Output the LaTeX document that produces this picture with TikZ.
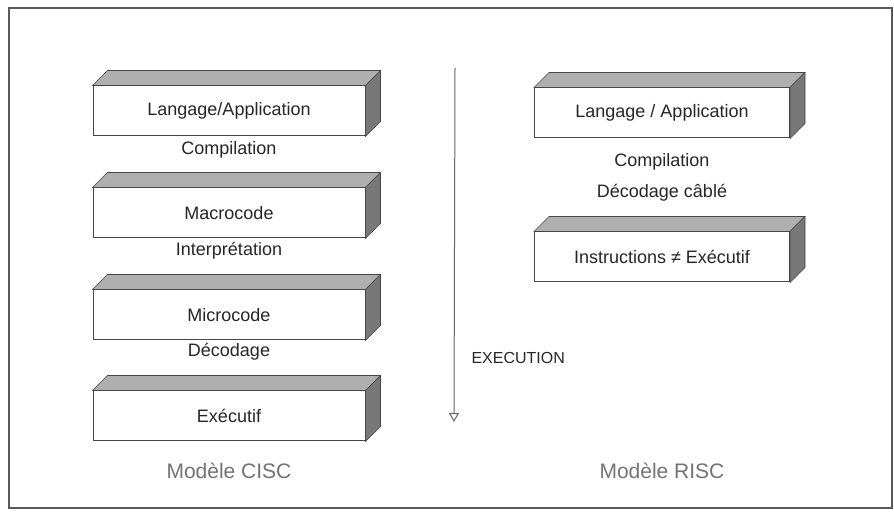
\documentclass[tikz,border=0pt]{standalone}
\usepackage{fontspec}
\setmainfont{Liberation Sans}
\usetikzlibrary{arrows.meta,positioning,calc}
\definecolor{topgray}{RGB}{175,175,175}
\definecolor{sidegray}{RGB}{120,120,120}
\definecolor{edgegray}{RGB}{70,70,70}

\begin{document}
\begin{tikzpicture}[
 x=1pt, y=1pt,
 slab/.style={rectangle, draw=edgegray, line width=1pt, fill=white, minimum width=272pt, minimum height=50pt, font=\fontsize{18}{20}\selectfont, text=black!85},
 slabr/.style={slab, minimum width=255pt},
 steplabel/.style={font=\fontsize{18}{20}\selectfont, text=black!85},
 model/.style={font=\fontsize{21}{24}\selectfont, text=black!55},
 topface/.style={fill=topgray, draw=edgegray, line width=0.6pt},
 sideface/.style={fill=sidegray, draw=edgegray, line width=0.6pt},
 arrow/.style={-{Triangle[open, length=9pt, width=10pt]}, line width=1pt, color=black!60}
]
\useasboundingbox (0,0) rectangle (894,514);

% Frame
\draw[black!65, line width=1.3pt] (9,6) rectangle (892,506);

% CISC column
\node[slab] (lang1) at (229,403) {Langage/Application};
\node[steplabel] (comp1) at (229,364) {Compilation};
\node[slab] (macro) at (229,301) {Macrocode};
\node[steplabel] (interp) at (229,263) {Interprétation};
\node[slab] (micro) at (229,199) {Microcode};
\node[steplabel] (decod) at (229,162) {Décodage};
\node[slab] (exec) at (229,98) {Exécutif};

% RISC column
\node[slabr] (lang2) at (662,401) {Langage / Application};
\node[steplabel] (comp2) at (662,352) {Compilation};
\node[steplabel] (cable) at (662,321) {Décodage câblé};
\node[slabr] (instr) at (662,257) {Instructions ≠ Exécutif};

% 3D faces
\foreach \b in {lang1,macro,micro,exec,lang2,instr} {
 \filldraw[topface] (\b.north west) -- ++(15,15) -- ($(\b.north east)+(15,15)$) -- (\b.north east) -- cycle;
 \filldraw[sideface] (\b.north east) -- ++(15,15) -- ($(\b.south east)+(15,15)$) -- (\b.south east) -- cycle;
}

% Execution arrow
\coordinate (flowtop) at (455,446);
\coordinate (flowend) at (454,92);
\draw[arrow] (flowtop) -- (flowend);
\node[steplabel, font=\fontsize{16}{18}\selectfont, anchor=west] (flowlab) at (468,156) {EXECUTION};

% Models
\node[model] (cisc) at (229,43) {Modèle CISC};
\node[model] (risc) at (662,43) {Modèle RISC};

\end{tikzpicture}
\end{document}
